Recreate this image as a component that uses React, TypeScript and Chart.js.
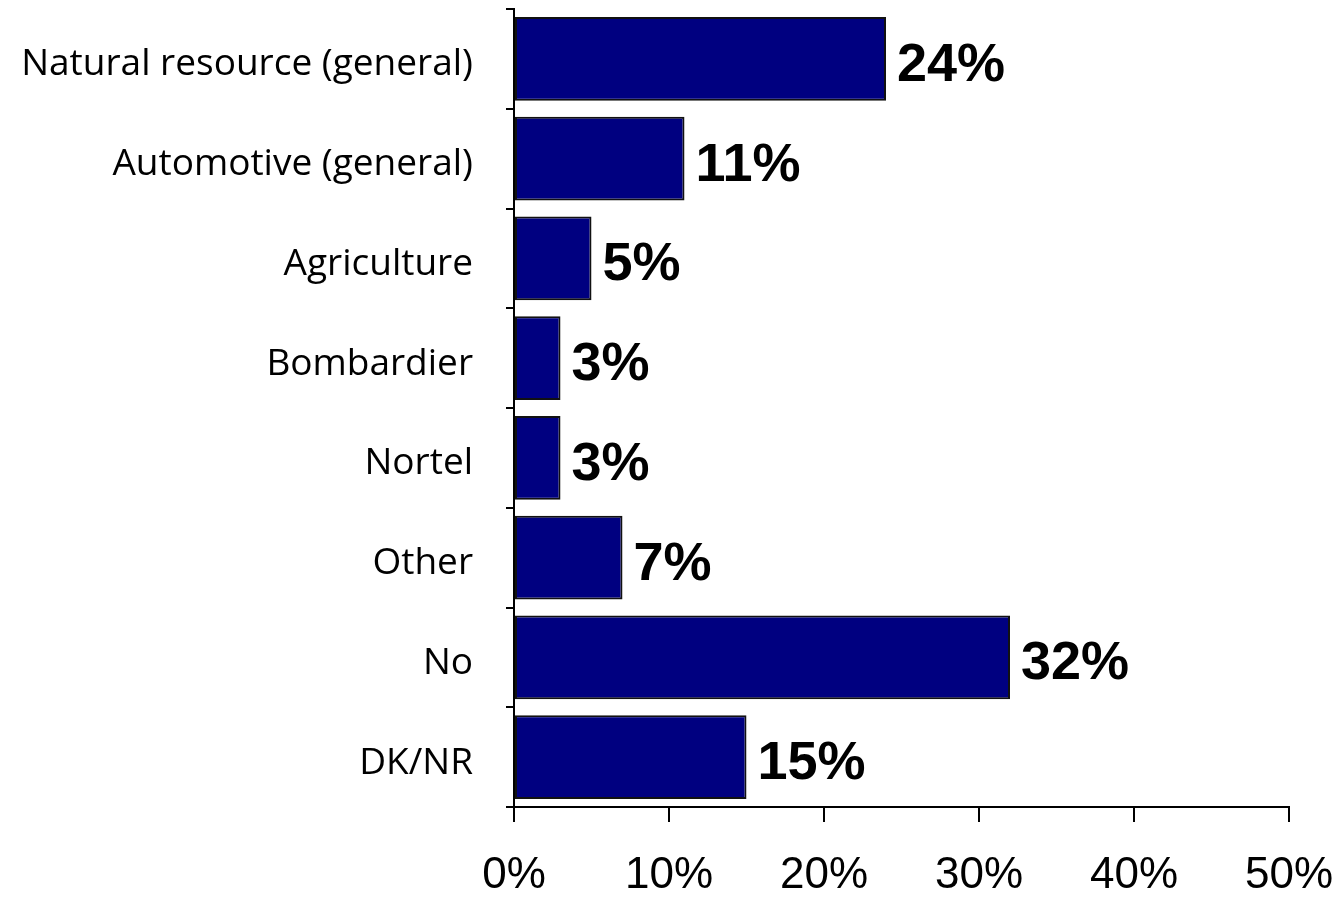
import React, { useEffect, useRef } from "react";
import { Chart, registerables } from "chart.js";

Chart.register(...registerables);

const categories = [
  "Natural resource (general)",
  "Automotive (general)",
  "Agriculture",
  "Bombardier",
  "Nortel",
  "Other",
  "No",
  "DK/NR",
];
const values = [24, 11, 5, 3, 3, 7, 32, 15];
const xTicks = [0, 10, 20, 30, 40, 50];

const valueLabels = {
  id: "valueLabels",
  afterDatasetsDraw(chart: any) {
    const ctx = chart.ctx;
    const meta = chart.getDatasetMeta(0);
    ctx.save();
    ctx.font = "bold 54px 'Liberation Sans', Arial, sans-serif";
    ctx.fillStyle = "#000";
    ctx.textAlign = "left";
    ctx.textBaseline = "middle";
    meta.data.forEach((el: any, i: number) => {
      ctx.fillText(values[i] + "%", el.x + 11, el.y + 7);
    });
    ctx.restore();
  },
};

export default function App() {
  const ref = useRef<HTMLCanvasElement | null>(null);
  useEffect(() => {
    document.body.style.margin = "0";
    const chart = new Chart(ref.current as HTMLCanvasElement, {
      type: "bar",
      data: {
        labels: categories,
        datasets: [
          {
            data: values,
            backgroundColor: "#000080",
            borderColor: "#111111",
            borderWidth: 2,
            borderSkipped: false,
            barPercentage: 0.84,
            categoryPercentage: 1,
          },
        ],
      },
      options: {
        indexAxis: "y",
        animation: false,
        responsive: false,
        maintainAspectRatio: false,
        layout: { padding: { top: 9, right: 53, left: 0, bottom: 0 } },
        plugins: { legend: { display: false }, tooltip: { enabled: false } },
        scales: {
          x: {
            min: 0,
            max: 50,
            afterBuildTicks: (axis: any) => {
              axis.ticks = xTicks.map((v) => ({ value: v }));
            },
            afterFit: (axis: any) => {
              axis.height = 90;
              axis.paddingLeft = 0;
              axis.paddingRight = 0;
            },
            border: { display: true, color: "#000", width: 2 },
            grid: {
              drawOnChartArea: false,
              drawTicks: true,
              tickLength: 15,
              color: "#000",
              lineWidth: 2,
            },
            ticks: {
              color: "#000",
              padding: 27,
              maxRotation: 0,
              font: { family: "'Liberation Sans', Arial, sans-serif", size: 44 },
              callback: (v: any) => v + "%",
            },
          },
          y: {
            afterFit: (axis: any) => {
              axis.width = 514;
              axis.paddingTop = 0;
              axis.paddingBottom = 0;
            },
            border: { display: true, color: "#000", width: 2 },
            grid: {
              offset: true,
              drawOnChartArea: false,
              drawTicks: true,
              tickLength: 8,
              color: "#000",
              lineWidth: 2,
            },
            ticks: {
              color: "#000",
              padding: 33,
              labelOffset: 6,
              font: { family: "'Open Sans', 'Noto Sans', sans-serif", size: 37 },
            },
          },
        },
      },
      plugins: [valueLabels],
    });
    return () => chart.destroy();
  }, []);
  return (
    <div style={{ position: "fixed", left: 0, top: 0, width: 1342, height: 897, background: "#fff" }}>
      <canvas ref={ref} width={1342} height={897} style={{ width: 1342, height: 897 }} />
    </div>
  );
}
